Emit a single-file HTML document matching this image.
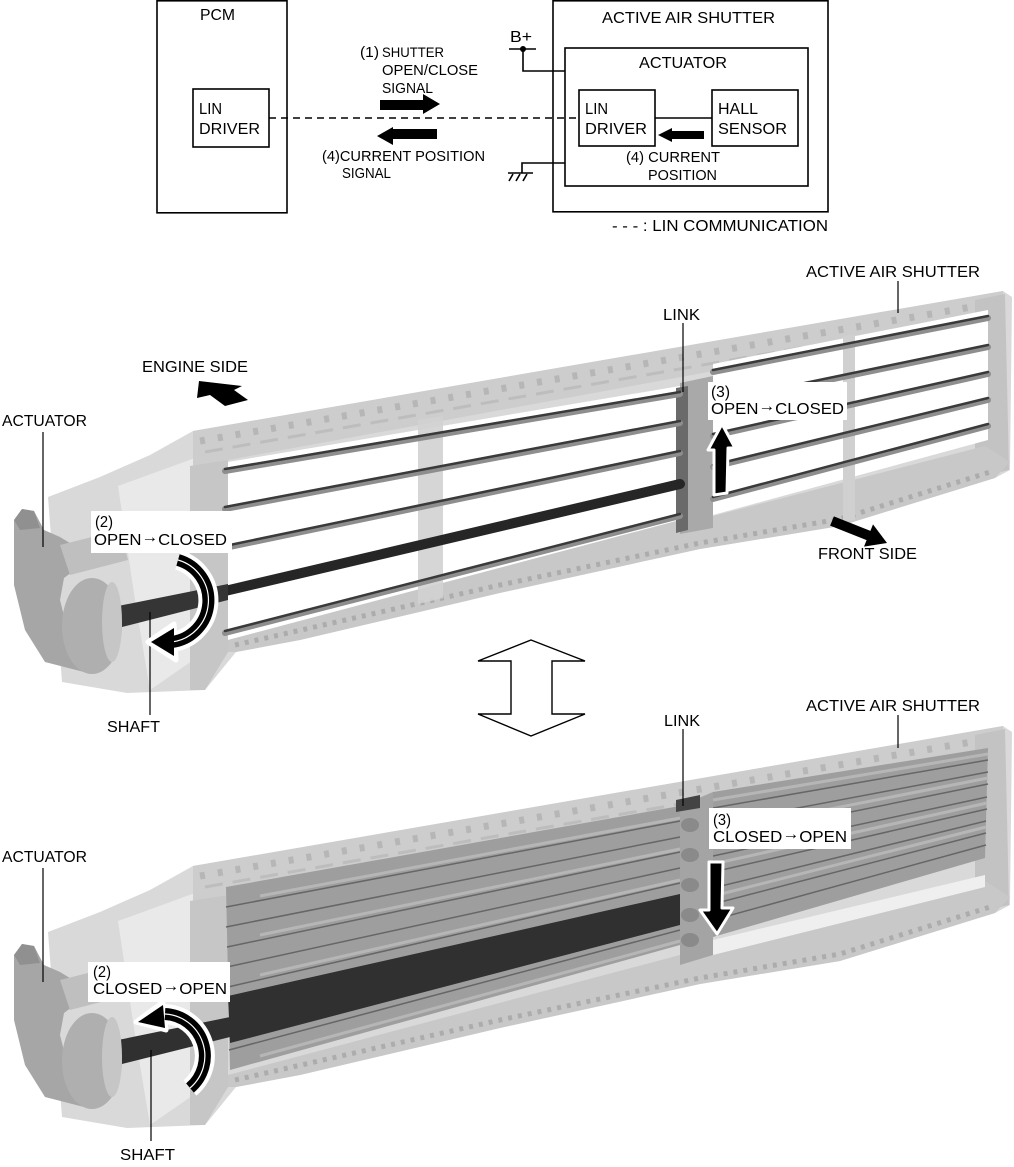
<!DOCTYPE html>
<html>
<head>
<meta charset="utf-8">
<style>
html,body{margin:0;padding:0;background:#fff;}
svg{display:block;}
text{font-family:"Liberation Sans",Arial,sans-serif;fill:#000;}
</style>
</head>
<body>
<svg width="1014" height="1167" viewBox="0 0 1014 1167" xmlns="http://www.w3.org/2000/svg">
<rect x="0" y="0" width="1014" height="1167" fill="#fff"/>

<!-- ================= BLOCK DIAGRAM ================= -->
<g fill="none" stroke="#000" stroke-width="1.6">
  <rect x="157" y="0.8" width="130" height="212"/>
  <rect x="193" y="89" width="76" height="58"/>
  <rect x="553" y="0.8" width="275" height="211"/>
  <rect x="565" y="48" width="243" height="138"/>
  <rect x="579" y="90" width="76" height="56"/>
  <rect x="712" y="90" width="86" height="56"/>
  <line x1="655" y1="118" x2="712" y2="118"/>
  <polyline points="509,49 536,49"/>
  <polyline points="523,49 523,71 565,71"/>
  <polyline points="565,163 522,163 522,173"/>
  <line x1="508" y1="173" x2="533" y2="173"/>
  <line x1="513" y1="174" x2="509" y2="181"/>
  <line x1="520" y1="174" x2="516" y2="181"/>
  <line x1="527" y1="174" x2="523" y2="181"/>
  <line x1="269" y1="118" x2="579" y2="118" stroke-dasharray="7 5"/>
</g>
<circle cx="523" cy="49" r="3" fill="#000"/>
<polygon points="380,100 423,100 423,94 440,104 423,114 423,110 380,110" fill="#000"/>
<polygon points="437,129 393,129 393,127 377,136 393,145 393,139 437,139" fill="#000"/>
<polygon points="704,131 672,131 672,128 658,135 672,142 672,139 704,139" fill="#000"/>

<g font-size="16">
  <text x="200" y="20" textLength="35" lengthAdjust="spacingAndGlyphs">PCM</text>
  <text x="602" y="23" textLength="173" lengthAdjust="spacingAndGlyphs">ACTIVE AIR SHUTTER</text>
  <text x="510" y="42" textLength="22" lengthAdjust="spacingAndGlyphs">B+</text>
  <text x="360" y="57" textLength="19" lengthAdjust="spacingAndGlyphs" font-size="15">(1)</text>
  <text x="382" y="57" textLength="62" lengthAdjust="spacingAndGlyphs" font-size="14">SHUTTER</text>
  <text x="382" y="75" textLength="96" lengthAdjust="spacingAndGlyphs" font-size="15">OPEN/CLOSE</text>
  <text x="382" y="93" textLength="51" lengthAdjust="spacingAndGlyphs" font-size="15">SIGNAL</text>
  <text x="639" y="68" textLength="88" lengthAdjust="spacingAndGlyphs">ACTUATOR</text>
  <text x="199" y="114" textLength="23" lengthAdjust="spacingAndGlyphs">LIN</text>
  <text x="199" y="134" textLength="61" lengthAdjust="spacingAndGlyphs">DRIVER</text>
  <text x="585" y="114" textLength="23" lengthAdjust="spacingAndGlyphs">LIN</text>
  <text x="585" y="134" textLength="62" lengthAdjust="spacingAndGlyphs">DRIVER</text>
  <text x="718" y="114" textLength="40" lengthAdjust="spacingAndGlyphs">HALL</text>
  <text x="718" y="134" textLength="69" lengthAdjust="spacingAndGlyphs">SENSOR</text>
  <text x="322" y="161" textLength="163" lengthAdjust="spacingAndGlyphs" font-size="15">(4)CURRENT POSITION</text>
  <text x="342" y="178" textLength="49" lengthAdjust="spacingAndGlyphs" font-size="15">SIGNAL</text>
  <text x="626" y="162" textLength="94" lengthAdjust="spacingAndGlyphs" font-size="15">(4) CURRENT</text>
  <text x="648" y="180" textLength="69" lengthAdjust="spacingAndGlyphs" font-size="15">POSITION</text>
  <text x="612" y="231" textLength="216" lengthAdjust="spacingAndGlyphs">- - - : LIN COMMUNICATION</text>
</g>

<!-- ================= COMMON HOUSING (defined once) ================= -->
<defs>
  <g id="housing">
    <polygon points="48,497 100,477 150,455 193,431 1003,291 1012,297 1010,470 995,478 840,526 700,549 500,593 300,640 236,652 205,690 127,693 62,682" fill="#d9d9d9"/>
    <polygon points="118,486 195,458 212,560 215,645 150,690 135,600" fill="#e9e9e9"/>
    <polygon points="193,431 1003,291 1003,318 228,460 193,466" fill="#cdcdcd"/>
    <line x1="200" y1="441" x2="1000" y2="302" stroke="#b6b6b6" stroke-width="7" stroke-dasharray="5 13"/>
    <line x1="205" y1="452" x2="1000" y2="313" stroke="#bdbdbd" stroke-width="3" stroke-dasharray="18 10"/>
    <polygon points="190,466 228,460 228,652 205,690 190,690" fill="#c6c6c6"/>
    <polygon points="975,300 1005,294 1009,470 975,478" fill="#c3c3c3"/>
  </g>
  <g id="bottomband">
    <polygon points="228,640 680,520 713,516 985,446 1010,462 995,478 840,526 700,549 500,593 300,640 236,652 228,652" fill="#c8c8c8"/>
    <polyline points="235,645 500,585 700,543 840,519 990,472" fill="none" stroke="#acacac" stroke-width="5" stroke-dasharray="4 6"/>
  </g>
  <g id="actuator">
    <polygon points="14,520 22,509 34,511 44,530 60,537 78,548 80,566 64,578 60,600 70,640 84,672 45,662 25,630 14,585" fill="#a6a6a6"/>
    <polygon points="14,520 22,509 34,511 40,528 20,530" fill="#909090"/>
    <ellipse cx="92" cy="626" rx="30" ry="48" fill="#afafaf"/>
    <ellipse cx="112" cy="622" rx="10" ry="40" fill="#c6c6c6"/>
    <polygon points="60,545 120,530 128,560 70,575" fill="#bfbfbf"/>
  </g>
</defs>

<!-- ================= TOP ILLUSTRATION (OPEN) ================= -->
<use href="#housing"/>
<polygon points="228,462 680,386 680,520 228,640" fill="#fff"/>
<polygon points="713,364 988,310 988,440 713,515" fill="#fff"/>
<polygon points="466,590 640,545 660,560 470,600" fill="#fff"/>
<use href="#bottomband"/>
<polygon points="418,420 443,416 443,598 418,604" fill="#d2d2d2" opacity="0.9"/>
<polygon points="843,336 855,334 855,520 843,522" fill="#d0d0d0"/>
<polygon points="680,383 713,376 713,528 680,534" fill="#a9a9a9"/>
<polygon points="676,388 688,386 688,530 676,533" fill="#6a6a6a"/>
<g stroke-linecap="round">
  <line x1="225" y1="471" x2="680" y2="394" stroke="#8e8e8e" stroke-width="6"/>
  <line x1="225" y1="469" x2="680" y2="392" stroke="#3a3a3a" stroke-width="2.5"/>
  <line x1="225" y1="509" x2="680" y2="423" stroke="#8e8e8e" stroke-width="6"/>
  <line x1="225" y1="507" x2="680" y2="421" stroke="#3a3a3a" stroke-width="2.5"/>
  <line x1="225" y1="548" x2="680" y2="453" stroke="#8e8e8e" stroke-width="6"/>
  <line x1="225" y1="546" x2="680" y2="451" stroke="#3a3a3a" stroke-width="2.5"/>
  <line x1="225" y1="591" x2="680" y2="484" stroke="#262626" stroke-width="10"/>
  <line x1="225" y1="633" x2="680" y2="516" stroke="#8e8e8e" stroke-width="6"/>
  <line x1="225" y1="631" x2="680" y2="514" stroke="#3a3a3a" stroke-width="2.5"/>
  <line x1="713" y1="372" x2="988" y2="318" stroke="#8e8e8e" stroke-width="6"/>
  <line x1="713" y1="370" x2="988" y2="316" stroke="#3a3a3a" stroke-width="2.5"/>
  <line x1="713" y1="404" x2="988" y2="347" stroke="#8e8e8e" stroke-width="6"/>
  <line x1="713" y1="402" x2="988" y2="345" stroke="#3a3a3a" stroke-width="2.5"/>
  <line x1="713" y1="436" x2="988" y2="374" stroke="#8e8e8e" stroke-width="6"/>
  <line x1="713" y1="434" x2="988" y2="372" stroke="#3a3a3a" stroke-width="2.5"/>
  <line x1="713" y1="467" x2="988" y2="400" stroke="#8e8e8e" stroke-width="6"/>
  <line x1="713" y1="465" x2="988" y2="398" stroke="#3a3a3a" stroke-width="2.5"/>
  <line x1="713" y1="499" x2="988" y2="426" stroke="#8e8e8e" stroke-width="6"/>
  <line x1="713" y1="497" x2="988" y2="424" stroke="#3a3a3a" stroke-width="2.5"/>
</g>
<polygon points="118,606 228,584 228,600 118,628" fill="#353535"/>
<use href="#actuator"/>

<!-- ================= BOTTOM ILLUSTRATION (CLOSED) ================= -->
<g transform="translate(0,435)">
  <use href="#housing"/>
  <use href="#bottomband"/>
  <polygon points="713,505 985,440 985,452 713,520" fill="#efefef"/>
</g>
<polygon points="226,887 680,806 680,945 230,1070" fill="#9e9e9e"/>
<g stroke-width="1.5">
  <line x1="226" y1="907" x2="680" y2="821" stroke="#666"/>
  <line x1="226" y1="927" x2="680" y2="837" stroke="#666"/>
  <line x1="227" y1="947" x2="680" y2="852" stroke="#666"/>
  <line x1="227" y1="967" x2="680" y2="868" stroke="#666"/>
  <line x1="228" y1="987" x2="680" y2="883" stroke="#666"/>
  <line x1="229" y1="1030" x2="680" y2="914" stroke="#666"/>
  <line x1="229" y1="1050" x2="680" y2="930" stroke="#666"/>
</g>
<g stroke="#b6b6b6" stroke-width="3">
  <line x1="260" y1="896" x2="680" y2="818" />
  <line x1="260" y1="935" x2="680" y2="849" />
  <line x1="260" y1="975" x2="680" y2="880" />
  <line x1="260" y1="1056" x2="680" y2="941" />
</g>
<polygon points="228,996 680,894 680,925 230,1043" fill="#303030"/>
<polygon points="713,792 988,748 985,858 713,937" fill="#9e9e9e"/>
<g stroke="#666" stroke-width="1.5">
  <line x1="713" y1="808" x2="988" y2="760"/>
  <line x1="713" y1="824" x2="988" y2="772"/>
  <line x1="713" y1="840" x2="988" y2="784"/>
  <line x1="713" y1="856" x2="987" y2="797"/>
  <line x1="713" y1="872" x2="987" y2="809"/>
  <line x1="713" y1="888" x2="986" y2="821"/>
  <line x1="713" y1="904" x2="986" y2="833"/>
  <line x1="713" y1="920" x2="986" y2="845"/>
</g>
<g stroke="#b6b6b6" stroke-width="3">
  <line x1="713" y1="800" x2="988" y2="754"/>
  <line x1="713" y1="832" x2="988" y2="778"/>
  <line x1="713" y1="864" x2="987" y2="803"/>
  <line x1="713" y1="896" x2="986" y2="827"/>
</g>
<polygon points="680,806 713,792 713,955 680,965" fill="#a4a4a4"/>
<g fill="#8a8a8a">
  <ellipse cx="690" cy="825" rx="9" ry="7"/>
  <ellipse cx="690" cy="855" rx="9" ry="7"/>
  <ellipse cx="690" cy="885" rx="9" ry="7"/>
  <ellipse cx="690" cy="915" rx="9" ry="7"/>
  <ellipse cx="690" cy="940" rx="9" ry="7"/>
</g>
<polygon points="676,800 700,795 700,808 676,812" fill="#444"/>
<polygon points="118,1040 230,1017 230,1037 118,1065" fill="#303030"/>
<g transform="translate(0,435)"><use href="#actuator"/></g>

<!-- ================= ARROWS & LABELS ================= -->
<polygon points="531,640 585,661 552,661 552,714 585,714 531,736 478,714 511,714 511,661 478,661" fill="#fff" stroke="#000" stroke-width="1.4" stroke-linejoin="miter"/>

<polygon points="199,381 242,386 234,390 248,400 225,406 210,395 197,398" fill="#000"/>
<polygon points="833.9,516.4 870.4,530.9 873,524.4 887,543 864,546.6 866.6,540.1 830.1,525.6" fill="#000"/>

<g stroke="#000" stroke-width="1.2">
  <line x1="43" y1="432" x2="43" y2="547"/>
  <line x1="150" y1="612" x2="150" y2="715"/>
  <line x1="683" y1="323" x2="683" y2="392"/>
  <line x1="898" y1="281" x2="898" y2="313"/>
  <line x1="898" y1="715" x2="898" y2="748"/>
  <line x1="683" y1="729" x2="683" y2="806"/>
  <line x1="43" y1="868" x2="43" y2="982"/>
  <line x1="151" y1="1050" x2="151" y2="1141"/>
</g>

<rect x="91" y="511" width="141" height="42" fill="#fff"/>
<rect x="708" y="382" width="139" height="38" fill="#fff"/>
<rect x="709" y="808" width="142" height="41" fill="#fff"/>
<rect x="88" y="962" width="142" height="40" fill="#fff"/>

<path d="M 178,560 A 42,42 0 0 1 172,642" fill="none" stroke="#fff" stroke-width="20"/>
<polygon points="148,642 174,624 176,660" fill="#fff" stroke="#fff" stroke-width="5" stroke-linejoin="round"/>
<path d="M 178,560 A 42,42 0 0 1 172,642" fill="none" stroke="#000" stroke-width="12"/>
<path d="M 178,560 A 42,42 0 0 1 172,642" fill="none" stroke="#fff" stroke-width="1.2"/>
<polygon points="151,642 174,628 174,656" fill="#000"/>

<path d="M 190,1088 A 42,42 0 0 0 165,1014" fill="none" stroke="#fff" stroke-width="20"/>
<polygon points="136,1022 163,1002 166,1030" fill="#fff" stroke="#fff" stroke-width="5" stroke-linejoin="round"/>
<path d="M 190,1088 A 42,42 0 0 0 165,1014" fill="none" stroke="#000" stroke-width="12"/>
<path d="M 190,1088 A 42,42 0 0 0 165,1014" fill="none" stroke="#fff" stroke-width="1.2"/>
<polygon points="138,1022 163,1005 165,1028" fill="#000"/>

<polygon points="722,424 735,448 728,448 727,493 714,495 714,450 708,450" fill="#000" stroke="#fff" stroke-width="3" stroke-linejoin="round"/>
<polygon points="709,862 723,862 722,908 733,908 717,934 700,910 709,910" fill="#000" stroke="#fff" stroke-width="3" stroke-linejoin="round"/>

<g font-size="16">
  <text x="142" y="372" textLength="106" lengthAdjust="spacingAndGlyphs">ENGINE SIDE</text>
  <text x="2" y="426" textLength="85" lengthAdjust="spacingAndGlyphs">ACTUATOR</text>
  <text x="95" y="527" textLength="18" lengthAdjust="spacingAndGlyphs">(2)</text>
  <text x="94" y="545" textLength="133" lengthAdjust="spacingAndGlyphs">OPEN<tspan dy="-3">→</tspan><tspan dy="3">CLOSED</tspan></text>
  <text x="107" y="732" textLength="53" lengthAdjust="spacingAndGlyphs">SHAFT</text>
  <text x="663" y="320" textLength="37" lengthAdjust="spacingAndGlyphs">LINK</text>
  <text x="806" y="277" textLength="174" lengthAdjust="spacingAndGlyphs">ACTIVE AIR SHUTTER</text>
  <text x="711" y="397" textLength="19" lengthAdjust="spacingAndGlyphs">(3)</text>
  <text x="711" y="414" textLength="133" lengthAdjust="spacingAndGlyphs">OPEN<tspan dy="-3">→</tspan><tspan dy="3">CLOSED</tspan></text>
  <text x="818" y="559" textLength="99" lengthAdjust="spacingAndGlyphs">FRONT SIDE</text>
  <text x="806" y="711" textLength="174" lengthAdjust="spacingAndGlyphs">ACTIVE AIR SHUTTER</text>
  <text x="664" y="726" textLength="36" lengthAdjust="spacingAndGlyphs">LINK</text>
  <text x="713" y="825" textLength="18" lengthAdjust="spacingAndGlyphs">(3)</text>
  <text x="713" y="842" textLength="134" lengthAdjust="spacingAndGlyphs">CLOSED<tspan dy="-3">→</tspan><tspan dy="3">OPEN</tspan></text>
  <text x="2" y="862" textLength="85" lengthAdjust="spacingAndGlyphs">ACTUATOR</text>
  <text x="93" y="977" textLength="18" lengthAdjust="spacingAndGlyphs">(2)</text>
  <text x="93" y="994" textLength="134" lengthAdjust="spacingAndGlyphs">CLOSED<tspan dy="-3">→</tspan><tspan dy="3">OPEN</tspan></text>
  <text x="120" y="1160" textLength="55" lengthAdjust="spacingAndGlyphs">SHAFT</text>
</g>
</svg>
</body>
</html>
